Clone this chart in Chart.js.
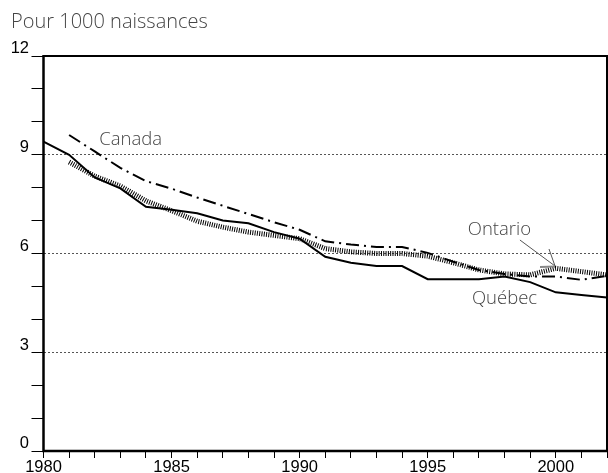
<!DOCTYPE html>
<html>
<head>
<meta charset="utf-8">
<script src="https://cdn.jsdelivr.net/npm/chart.js@4"></script>
<style>
  html, body { margin: 0; padding: 0; background: #fff; }
  canvas { display: block; }
</style>
</head>
<body>
<canvas id="chart" width="608" height="473"></canvas>
<script>
// Taux de mortalité infantile, pour 1000 naissances
const years = [1980, 1981, 1982, 1983, 1984, 1985, 1986, 1987, 1988, 1989, 1990, 1991,
               1992, 1993, 1994, 1995, 1996, 1997, 1998, 1999, 2000, 2001, 2002];
const quebec  = [9.4, 9.0, 8.31, 7.98, 7.42, 7.33, 7.22, 7.0, 6.92, 6.65, 6.45, 5.9,
                 5.72, 5.62, 5.62, 5.22, 5.22, 5.22, 5.3, 5.13, 4.82, 4.74, 4.66];
const ontario = [null, 8.78, 8.35, 8.05, 7.6, 7.3, 6.98, 6.8, 6.65, 6.55, 6.45, 6.15,
                 6.05, 6.0, 6.0, 5.92, 5.72, 5.5, 5.38, 5.35, 5.55, 5.45, 5.35];
const canada  = [null, 9.6, 9.1, 8.6, 8.2, 7.97, 7.7, 7.45, 7.2, 6.95, 6.72, 6.37,
                 6.27, 6.2, 6.2, 6.02, 5.75, 5.5, 5.38, 5.3, 5.3, 5.2, 5.32];

const yLabelled = [0, 3, 6, 9, 12];
const xLabelled = [1980, 1985, 1990, 1995, 2000];

const titleText = 'Pour 1000 naissances';
// étiquettes des séries (texte, année, valeur)
const noteText = ['Canada', 'Ontario', 'Québec'];
const noteX = [1983.4, 1997.8, 1998.0];
const noteY = [9.45, 6.72, 4.62];

const toPoints = vals => years.map((yr, i) => ({ x: yr, y: vals[i] }));

const frameAndNotes = {
    id: 'frameAndNotes',
    afterDatasetsDraw(chart) {
        const { ctx, chartArea: a, scales: { x, y } } = chart;
        ctx.save();
        // cadre
        ctx.strokeStyle = '#000';
        ctx.lineWidth = 2;
        ctx.beginPath();
        ctx.moveTo(a.left, a.top);
        ctx.lineTo(a.right, a.top);
        ctx.lineTo(a.right, a.bottom);
        ctx.stroke();
        ctx.lineWidth = 2.5;
        ctx.beginPath();
        ctx.moveTo(a.left, a.top - 1);
        ctx.lineTo(a.left, a.bottom);
        ctx.lineTo(a.right, a.bottom);
        ctx.stroke();

        // étiquettes des axes, placées sur les graduations des échelles
        ctx.fillStyle = '#000';
        ctx.font = '16.5px Arial';
        ctx.textBaseline = 'alphabetic';
        ctx.textAlign = 'center';
        x.ticks.forEach(t => {
            if (xLabelled.includes(t.value)) {
                ctx.fillText(String(t.value), x.getPixelForValue(t.value), 471.5);
            }
        });
        ctx.textAlign = 'right';
        y.ticks.forEach(t => {
            if (yLabelled.includes(t.value)) {
                ctx.fillText(String(t.value), 29, y.getPixelForValue(t.value) - 2.7);
            }
        });

        ctx.fillStyle = '#444';
        ctx.textAlign = 'left';
        ctx.font = '300 20px "Open Sans"';
        ctx.fillText(titleText, 11, 28);

        ctx.font = '300 18.5px "Open Sans"';
        ctx.textAlign = 'center';
        ctx.textBaseline = 'middle';
        noteText.forEach((t, i) => {
            ctx.fillText(t, x.getPixelForValue(noteX[i]), y.getPixelForValue(noteY[i]));
        });

        // flèche Ontario
        const x0 = x.getPixelForValue(1998.6), y0 = y.getPixelForValue(6.41);
        const x1 = x.getPixelForValue(1999.97), y1 = y.getPixelForValue(5.62);
        ctx.strokeStyle = '#555';
        ctx.lineWidth = 1;
        ctx.beginPath();
        ctx.moveTo(x0, y0);
        ctx.lineTo(x1, y1);
        ctx.moveTo(x1, y1);
        ctx.lineTo(x1 - 6, y1 - 17);
        ctx.stroke();
        ctx.strokeStyle = '#888';
        ctx.lineWidth = 2;
        ctx.beginPath();
        ctx.moveTo(x1, y1 + 0.5);
        ctx.lineTo(x1 - 15, y1 + 1);
        ctx.stroke();
        ctx.restore();
    }
};

new Chart(document.getElementById('chart'), {
    type: 'line',
    data: {
        datasets: [
            {
                label: 'Québec',
                data: toPoints(quebec),
                borderColor: '#000',
                borderWidth: 2,
                order: 1
            },
            {
                label: 'Canada',
                data: toPoints(canada),
                borderColor: '#000',
                borderWidth: 2,
                borderDash: [13, 5, 2, 5],
                order: 2
            },
            {
                label: 'Ontario',
                data: toPoints(ontario),
                borderColor: '#000',
                borderWidth: 5,
                borderDash: [1, 1.3],
                borderCapStyle: 'butt',
                order: 3
            }
        ]
    },
    options: {
        responsive: false,
        animation: false,
        devicePixelRatio: 1,
        layout: { padding: { top: 56, left: 12, right: 1, bottom: 0 } },
        elements: {
            point: { radius: 0 },
            line: { tension: 0, fill: false }
        },
        plugins: {
            legend: { display: false },
            tooltip: { enabled: false }
        },
        scales: {
            x: {
                type: 'linear',
                min: 1980,
                max: 2002,
                afterFit: s => { s.height = 22; },
                border: { display: false },
                grid: {
                    drawOnChartArea: false,
                    color: '#000',
                    tickColor: '#000',
                    tickLength: 7
                },
                ticks: {
                    display: false,
                    stepSize: 1,
                    autoSkip: false,
                    maxRotation: 0
                }
            },
            y: {
                min: 0,
                max: 12,
                afterFit: s => { s.width = 31.5; },
                border: { display: false, dash: [2, 2] },
                grid: {
                    color: c => (c.tick && [3, 6, 9].includes(c.tick.value)) ? '#555' : 'rgba(0,0,0,0)',
                    lineWidth: 1,
                    tickColor: '#000',
                    tickBorderDash: [],
                    tickLength: 12
                },
                ticks: {
                    display: false,
                    stepSize: 1,
                    autoSkip: false
                }
            }
        }
    },
    plugins: [frameAndNotes]
});
</script>
</body>
</html>
